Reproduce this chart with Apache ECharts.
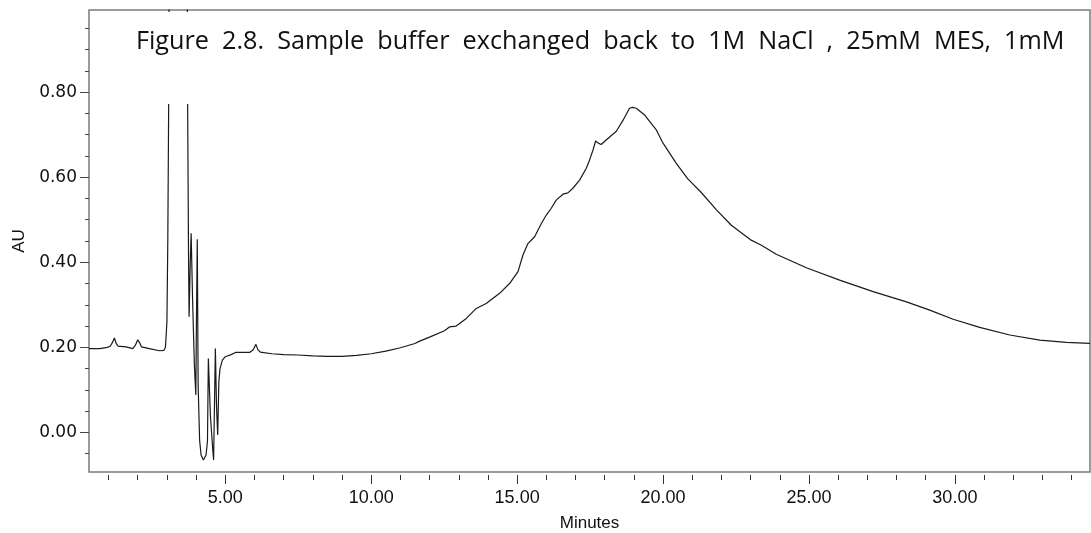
<!DOCTYPE html>
<html>
<head>
<meta charset="utf-8">
<title>Figure 2.8</title>
<script src="https://cdn.jsdelivr.net/npm/echarts@6.0.0/dist/echarts.min.js"></script>
<style>
    body { margin: 0; background: #fff; }
    #chart { width: 1091px; height: 533px; }
</style>
</head>
<body>
<div id="chart"></div>
<script>
// retention time (min)
var minutes = [
    0.33, 0.7, 0.95, 1.05, 1.13, 1.2, 1.27, 1.33, 1.6, 1.83,
    1.92, 2.0, 2.07, 2.13, 2.4, 2.74, 2.9, 2.95, 3.0, 3.03,
    3.06, 3.09, 3.68, 3.71, 3.74, 3.76, 3.80, 3.83, 3.88, 3.94,
    3.99, 4.01, 4.04, 4.07, 4.12, 4.17, 4.25, 4.34, 4.39, 4.42,
    4.49, 4.57, 4.60, 4.66, 4.70, 4.74, 4.78, 4.82, 4.90, 5.0,
    5.2, 5.35, 5.83, 5.95, 6.05, 6.12, 6.2, 6.6, 7.0, 7.5,
    8.0, 8.5, 9.0, 9.5, 10.0, 10.5, 11.0, 11.5, 11.66, 12.0,
    12.51, 12.68, 12.91, 13.26, 13.6, 13.94, 14.4, 14.74, 15.03, 15.2,
    15.37, 15.6, 15.83, 16.0, 16.17, 16.34, 16.57, 16.74, 16.91, 17.14,
    17.37, 17.48, 17.6, 17.69, 17.78, 17.88, 18.11, 18.4, 18.63, 18.85,
    18.95, 19.08, 19.37, 19.77, 20.0, 20.46, 20.85, 21.31, 21.83, 22.34,
    23.02, 23.37, 23.88, 24.91, 26.05, 27.2, 28.34, 29.14, 29.94, 30.85,
    31.88, 32.91, 33.82, 34.63
];

// absorbance (AU)
var au = [
    0.197, 0.197, 0.200, 0.202, 0.211, 0.222, 0.208, 0.203, 0.201, 0.197,
    0.205, 0.218, 0.210, 0.201, 0.197, 0.192, 0.193, 0.200, 0.26, 0.45,
    0.77, 1.3, 1.3, 0.77, 0.42, 0.272, 0.40, 0.468, 0.31, 0.16,
    0.088, 0.25, 0.454, 0.11, -0.018, -0.053, -0.065, -0.053, -0.02, 0.174,
    0.04, -0.04, -0.065, 0.197, 0.06, -0.006, 0.12, 0.150, 0.170, 0.178,
    0.183, 0.188, 0.188, 0.194, 0.207, 0.194, 0.189, 0.185, 0.183, 0.182,
    0.180, 0.179, 0.179, 0.181, 0.185, 0.191, 0.199, 0.209, 0.2147, 0.224,
    0.239, 0.248, 0.250, 0.268, 0.2915, 0.303, 0.327, 0.350, 0.378, 0.417,
    0.444, 0.460, 0.491, 0.511, 0.527, 0.546, 0.560, 0.563, 0.574, 0.593,
    0.621, 0.640, 0.664, 0.685, 0.680, 0.677, 0.691, 0.708, 0.734, 0.762,
    0.764, 0.762, 0.746, 0.711, 0.680, 0.632, 0.596, 0.564, 0.523, 0.487,
    0.452, 0.440, 0.419, 0.387, 0.358, 0.331, 0.307, 0.2876, 0.266, 0.247,
    0.229, 0.217, 0.2116, 0.2093
];

var xLabels = [5, 10, 15, 20, 25, 30];
var xMinor = [1, 2, 3, 4, 6, 7, 8, 9, 11, 12, 13, 14, 16, 17, 18, 19, 21, 22, 23, 24,
    26, 27, 28, 29, 31, 32, 33, 34];
var yLabels = [0, 0.2, 0.4, 0.6, 0.8];
var yMinor = [-0.05, 0.05, 0.1, 0.15, 0.25, 0.3, 0.35, 0.45, 0.5, 0.55, 0.65, 0.7,
    0.75, 0.85, 0.9, 0.95];

var titleText = 'Figure  2.8.  Sample  buffer  exchanged  back  to  1M  NaCl  ,  25mM  MES,  1mM';

(function () {
    var points = [];
    for (var i = 0; i < minutes.length; i++) {
        points.push([minutes[i], au[i]]);
    }

    var xMin = 0.33, xMax = 34.63;
    var yMin = -0.093, yMax = 0.993;
    var fmt = function (v) { return v.toFixed(2); };

    var option = {
        animation: false,
        backgroundColor: '#fff',
        grid: {
            left: 89, right: 1, top: 10, bottom: 61,
            outerBoundsMode: 'none',
            containLabel: false,
            show: true,
            borderColor: '#7a7a7a',
            borderWidth: 1.5
        },
        xAxis: [
            {
                type: 'value', min: xMin, max: xMax, position: 'bottom', offset: 3,
                name: 'Minutes', nameLocation: 'middle', nameGap: 40,
                nameTextStyle: { fontFamily: 'Liberation Sans', fontSize: 17, color: '#111' },
                axisLine: { show: false, onZero: false },
                axisTick: { customValues: xLabels, length: 9, lineStyle: { color: '#333', width: 1 } },
                axisLabel: {
                    customValues: xLabels, formatter: fmt, margin: 14,
                    fontFamily: 'Liberation Sans', fontSize: 18, color: '#111'
                },
                splitLine: { show: false }
            },
            {
                type: 'value', min: xMin, max: xMax, position: 'bottom', offset: 3,
                axisLine: { show: false, onZero: false },
                axisTick: { customValues: xMinor, length: 5, lineStyle: { color: '#333', width: 1 } },
                axisLabel: { show: false },
                splitLine: { show: false }
            }
        ],
        yAxis: [
            {
                type: 'value', min: yMin, max: yMax, position: 'left',
                name: 'AU', nameLocation: 'middle', nameGap: 56, nameRotate: 90,
                nameTextStyle: { fontFamily: 'Liberation Sans', fontSize: 17, color: '#111' },
                axisLine: { show: false, onZero: false },
                axisTick: { customValues: yLabels, length: 9, lineStyle: { color: '#444', width: 1 } },
                axisLabel: {
                    customValues: yLabels, formatter: fmt, margin: 12,
                    fontFamily: 'DejaVu Sans', fontSize: 17, color: '#111'
                },
                splitLine: { show: false }
            },
            {
                type: 'value', min: yMin, max: yMax, position: 'left',
                axisLine: { show: false, onZero: false },
                axisTick: { customValues: yMinor, length: 4, lineStyle: { color: '#444', width: 1 } },
                axisLabel: { show: false },
                splitLine: { show: false }
            }
        ],
        // white text box of the original figure caption, it hides the top of the spike
        graphic: [
            {
                type: 'rect', z: 100,
                shape: { x: 96, y: 12, width: 988, height: 92 },
                style: { fill: '#fff' }
            },
            {
                type: 'text', z: 101, x: 136, y: 42,
                style: {
                    text: titleText,
                    fontFamily: 'Open Sans', fontSize: 25.2, fill: '#111',
                    verticalAlign: 'middle'
                }
            }
        ],
        series: [
            {
                type: 'line',
                xAxisIndex: 0, yAxisIndex: 0,
                data: points,
                showSymbol: false,
                clip: true,
                lineStyle: { color: '#1a1a1a', width: 1.2 }
            }
        ]
    };

    var myChart = echarts.init(document.getElementById('chart'));
    myChart.setOption(option);
})();
</script>
</body>
</html>
